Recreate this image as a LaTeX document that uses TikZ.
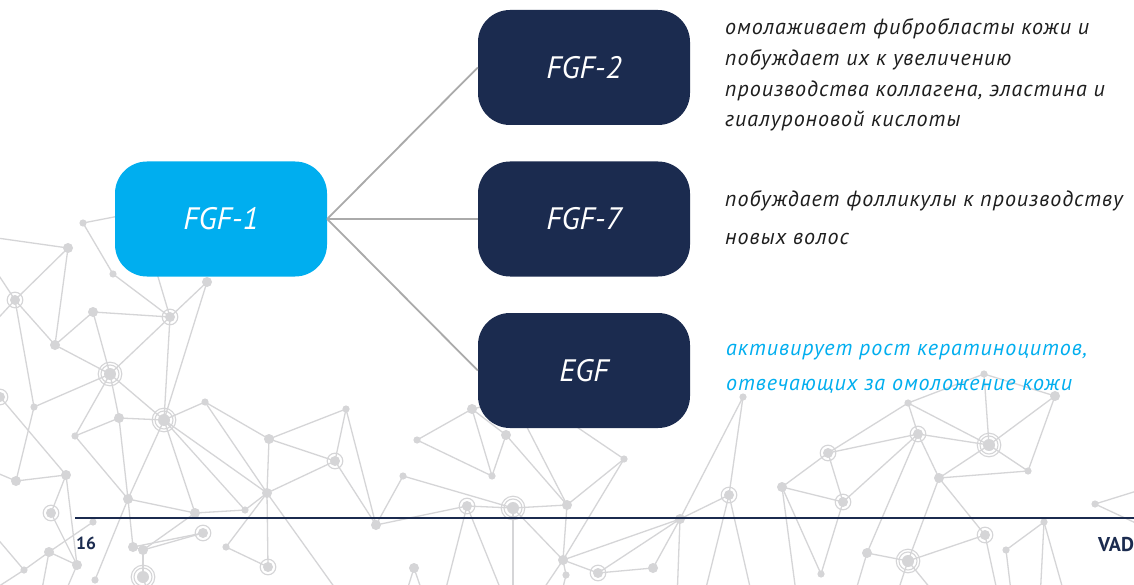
\documentclass[tikz,border=0pt]{standalone}
\usepackage{fontspec}
\setmainfont{PT Sans}
\newfontfamily\descfont[LetterSpace=4.5]{PT Sans}
\definecolor{cyanbox}{HTML}{00AEEF}
\definecolor{navy}{HTML}{1B2B4F}
\definecolor{netgray}{HTML}{D5D5D7}
\definecolor{conn}{HTML}{AAAAAA}
\definecolor{ink}{HTML}{1E1E1E}
\begin{document}
\begin{tikzpicture}[x=1pt,y=-1pt,
  box/.style={rounded corners=32pt, minimum width=212pt, minimum height=115pt, inner sep=0pt, text=white, font=\fontsize{31}{36}\selectfont\itshape},
  desc/.style={anchor=base west, inner sep=0pt, text=ink, font=\descfont\fontsize{22}{26}\selectfont\itshape},
  descc/.style={desc, text=cyanbox},
  netline/.style={draw=netgray, line width=1.3pt},
  connector/.style={draw=conn, line width=1.8pt},
  foot/.style={anchor=base west, inner sep=0pt, text=navy, font=\bfseries}]
\useasboundingbox (0,0) rectangle (1134,585);
\fill[white] (0,0) rectangle (1134,585);
% ---------- background network ----------
\begin{scope}
\clip (0,0) rectangle (1134,585);
\foreach \n/\x/\y in {pA/83/223,pB/68/248,pC/113/274,pD/15/300,pE/55/345,pF/93/312,pG/170/317,pH/207/282,pI/110/374,pJ/34/407,pK/0/397,pL/119/418,pM/164/420,pN/75/436,pO/205/402,pP/269/439,pQ/346/409,pR/335/461,pS/267/493,pT/128/499,pU/195/513,pV/245/510,pW/16/481,pX/66/475,pY/51/513,pZ/376/525,pa/49/552,pb/77/565,pc/24/570,pd/93/522,pe/133/547,pf/143/550,pg/203/533,ph/143/577,pi/226/547,pj/268/567,pk/95/580,
  qa/472/409,qb/417/440,qc/506/435,qd/492/476,qe/403/476,qf/467/506,qg/513/508,qh/567/505,qi/624/459,qk/563/560,ql/598/573,qm/653/568,qn/680/519,qo/729/495,qp/743/397,qq/414/568,qr/566/575,
  ra/908/403,rb/1055/396,rc/918/434,rd/989/445,re/828/453,rf/1028/471,rg/939/478,rh/782/487,ri/843/502,rj/1095/504,rk/1044/522,rl/985/535,rm/1006/550,rn/867/553,ro/908/561,rp/821/574,rx/984/374,
  hidA/150/210,hidB/150/250,hidC/513/400,hidD/537/400,
  o1/-10/237,o2/-10/262,o3/-10/327,o4/345/602,o5/-10/470,o6/443/600,o7/505/600,o8/513/600,o9/753/600,o10/703/600,o11/677/600,o12/404/600,o13/425/600,o14/560/600,o15/536/600,o16/797/600,o17/999/600,o18/853/600,o19/895/600,o20/940/600,o21/1140/490,o22/1140/525,o23/1040/600,o24/1066/600,o25/1012/600,o26/40/600,o27/62/600,o28/-10/592,o29/150/600,o30/-10/530}
  {\coordinate (\n) at (\x,\y);}
\foreach \a/\b in {o1/pB,pA/hidA,pA/pC,pC/pG,hidB/pG,pH/pG,pH/pM,pB/pD,pB/pE,pD/pE,pD/pJ,pD/o2,pD/o3,pE/pF,pE/pI,pF/pG,pF/pI,pG/pI,pG/pM,pI/pJ,pI/pL,pI/pM,pI/pN,pL/pN,pL/pM,pL/pT,pM/pO,pM/pT,pM/pU,pM/pV,pM/pS,pO/pP,pO/pS,pP/pQ,pP/pR,pP/pS,pQ/pR,pQ/pZ,pR/pS,pR/pZ,pS/pV,pS/pi,pS/pj,pS/o4,pN/pT,pT/pU,pU/pV,pT/pe,pT/pk,pU/pf,pK/pX,pX/pW,pX/pY,pX/pb,pY/pb,pa/pc,pa/pd,pa/pb,pe/pf,pf/pg,pe/pg,pi/pj,ph/pf,pW/o5,pW/pJ,pa/o26,pb/o27,pc/o28,ph/o29,pc/o30,
  qa/qb,qa/qd,qa/qc,qa/hidC,qb/qd,qd/qc,qc/qh,hidC/qh,hidD/qi,qi/qh,qi/qk,qe/qg,qe/pZ,pZ/qf,qf/qg,qg/qh,qg/qk,qh/qk,qf/o6,qf/o7,qg/o8,qk/qn,ql/qn,ql/qm,qm/qn,qk/ql,qn/qo,qn/qp,qo/qp,qo/o9,qo/o10,qn/o11,qq/o12,qq/o13,qk/qr,qr/o14,qk/o15,
  rx/rd,rx/ra,rx/rb,ra/re,ra/rc,ra/rd,rb/rd,rb/rf,rd/rf,rc/rd,rc/re,rc/rg,rc/ri,rc/rn,rd/rg,rg/rf,rg/rl,rg/ro,re/rh,re/ri,rh/ri,rh/rp,rh/o16,ri/rp,rl/ro,rl/o17,rn/ro,rn/o18,ro/o19,ro/o20,rj/o21,rj/o22,rk/rm,rk/o23,rk/o24,rm/o25}
  {\draw[netline] (\a) -- (\b);}
\foreach \p in {pA,pC,pJ,pN,pO,pQ,pV,pc,pd,pi,pk,qb,qd,qe,qi,qp,qr,ra,rf,rj,rk,rm,rp,rx}
  {\fill[netgray] (\p) circle (3.6pt);}
\foreach \p in {pB,pE,pF,pH,pL,pP,pS,pT,pU,pW,pX,pZ,pa,pb,pe,pf,qa,qc,qh,qk,qm,qn,qq,rb,rg,rh,rn}
  {\fill[netgray] (\p) circle (5pt);}
\foreach \p in {pD,pG,pK,pR,pY,pg,pj,qf,ql,qo,rc,re,ri,rl}
  {\fill[netgray] (\p) circle (5pt); \draw[netgray, line width=1.1pt] (\p) circle (7.8pt);}
\foreach \p in {pI,pM,ph,qg,rd,ro}
  {\fill[netgray] (\p) circle (6pt); \draw[netgray, line width=1.1pt] (\p) circle (9pt) (\p) circle (11.8pt);}
\end{scope}
% ---------- diagram ----------
\node[box, fill=cyanbox] (f1) at (221,219) {FGF-1};
\node[box, fill=navy] (f2) at (584,67.5) {FGF-2};
\node[box, fill=navy] (f7) at (584,219) {FGF-7};
\node[box, fill=navy] (egf) at (584,370.5) {EGF};
\draw[connector] (f1.east) -- (f2.west);
\draw[connector] (f1.east) -- (f7.west);
\draw[connector] (f1.east) -- (egf.west);
% descriptions
\node[desc] (d1) at (725,35) {омолаживает фибробласты кожи и};
\node[desc] (d2) at (725,65.7) {побуждает их к увеличению};
\node[desc] (d3) at (725,96.7) {производства коллагена, эластина и};
\node[desc] (d4) at (725,126.7) {гиалуроновой кислоты};
\node[desc] (d5) at (725,206.7) {побуждает фолликулы к производству};
\node[desc] (d6) at (725,244) {новых волос};
\node[descc] (d7) at (726,355) {активирует рост кератиноцитов,};
\node[descc] (d8) at (726,390.7) {отвечающих за омоложение кожи};
% footer
\coordinate (ruleL) at (75,518);
\coordinate (ruleR) at (1134,518);
\draw[navy, line width=2.6pt] (ruleL) -- (ruleR);
\node[foot, font=\fontsize{17.5}{20}\selectfont\bfseries] (pg) at (76,549) {16};
\node[foot, font=\fontsize{20}{24}\selectfont\bfseries] (brand) at (1098,551) {VAD};
\end{tikzpicture}
\end{document}
